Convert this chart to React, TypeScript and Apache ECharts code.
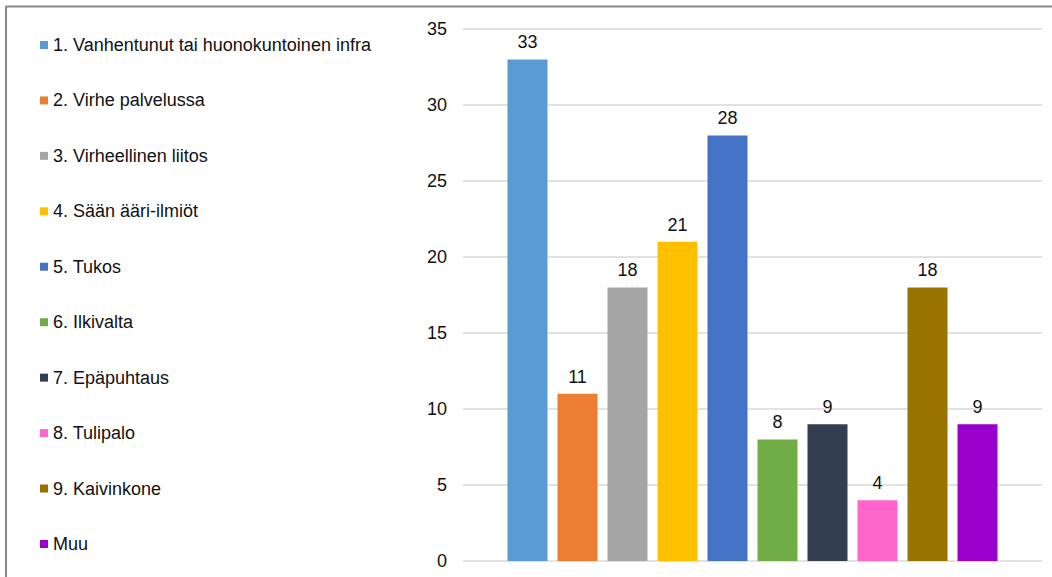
import React, { useEffect, useRef } from "react";
import * as echarts from "echarts";

const seriesNames = [
  "1. Vanhentunut tai huonokuntoinen infra",
  "2. Virhe palvelussa",
  "3. Virheellinen liitos",
  "4. Sään ääri-ilmiöt",
  "5. Tukos",
  "6. Ilkivalta",
  "7. Epäpuhtaus",
  "8. Tulipalo",
  "9. Kaivinkone",
  "Muu",
];
const seriesValues = [33, 11, 18, 21, 28, 8, 9, 4, 18, 9];
const seriesColors = [
  "#5b9bd5",
  "#ed7d31",
  "#a5a5a5",
  "#ffc000",
  "#4472c4",
  "#70ad47",
  "#333f50",
  "#ff66cc",
  "#997300",
  "#9900cc",
];
const categories = [""];

export default function App() {
  const ref = useRef<HTMLDivElement>(null);
  useEffect(() => {
    if (!ref.current) return;
    const chart = echarts.init(ref.current, undefined, { renderer: "svg" });
    const font = "'Liberation Sans', Arial, sans-serif";
    chart.setOption({
      animation: false,
      backgroundColor: "#ffffff",
      textStyle: { fontFamily: font },
      legend: {
        orient: "vertical",
        left: 40,
        top: 36,
        padding: 0,
        itemWidth: 8,
        itemHeight: 8,
        itemGap: 37.44,
        icon: "rect",
        selectedMode: false,
        textStyle: { fontSize: 18, color: "#111111", fontFamily: font, lineHeight: 18 },
        data: seriesNames,
      },
      grid: { left: 463, right: 10, top: 29, bottom: 16, containLabel: false },
      xAxis: {
        type: "category",
        data: categories,
        axisLine: { show: false },
        axisTick: { show: false },
        axisLabel: { show: false },
      },
      yAxis: {
        type: "value",
        min: 0,
        max: 35,
        interval: 5,
        axisLine: { show: false },
        axisTick: { show: false },
        axisLabel: { fontSize: 18, color: "#111111", margin: 16, fontFamily: font },
        splitLine: { lineStyle: { color: "#d9d9d9", width: 1.5 } },
      },
      series: seriesNames.map((name, i) => ({
        name,
        type: "bar",
        data: [seriesValues[i]],
        barWidth: 40,
        barGap: "25%",
        itemStyle: { color: seriesColors[i] },
        label: {
          show: true,
          position: "top",
          distance: 8,
          fontSize: 18,
          color: "#111111",
          fontFamily: font,
        },
      })),
      graphic: [
        {
          type: "line",
          shape: { x1: 6, y1: 6.5, x2: 1052, y2: 6.5 },
          style: { stroke: "#888888", lineWidth: 2 },
        },
        {
          type: "line",
          shape: { x1: 6, y1: 6, x2: 6, y2: 577 },
          style: { stroke: "#888888", lineWidth: 2 },
        },
      ],
    });
    return () => chart.dispose();
  }, []);
  return (
    <div
      ref={ref}
      style={{ position: "fixed", left: 0, top: 0, width: 1052, height: 577 }}
    />
  );
}
